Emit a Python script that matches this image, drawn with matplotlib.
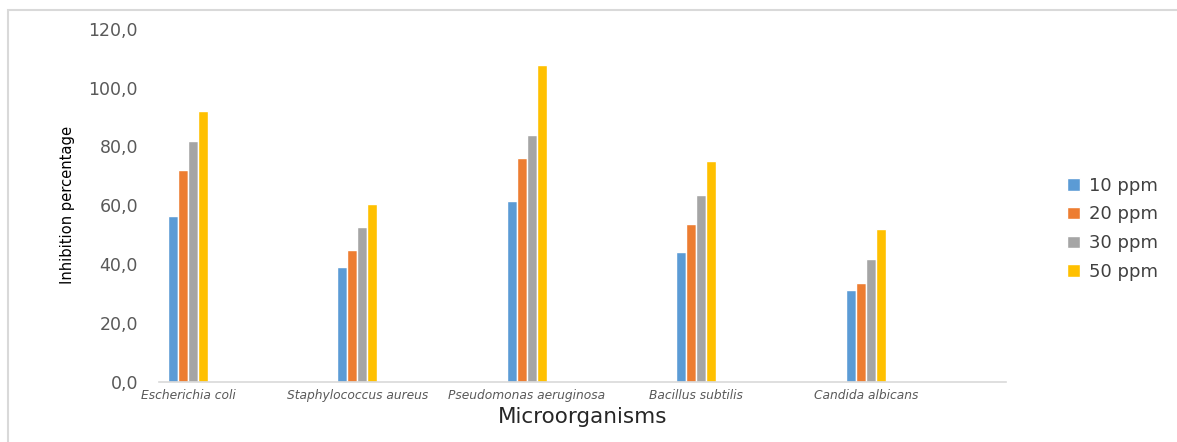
import numpy as np
import matplotlib
matplotlib.use("Agg")
import matplotlib.pyplot as plt
from matplotlib.patches import Rectangle
from matplotlib.ticker import FuncFormatter, MultipleLocator

# inhibition (%) per microorganism at each concentration
organisms = ["Escherichia coli", "Staphylococcus aureus", "Pseudomonas aeruginosa",
             "Bacillus subtilis", "Candida albicans"]
ppm_10 = [56.4, 39.0, 61.5, 44.0, 31.2]
ppm_20 = [71.9, 44.9, 76.0, 53.7, 33.4]
ppm_30 = [81.8, 52.6, 83.9, 63.6, 41.6]
ppm_50 = [92.1, 60.5, 107.7, 75.1, 52.0]
series_labels = ["10 ppm", "20 ppm", "30 ppm", "50 ppm"]
colors = ["#5B9BD5", "#ED7D31", "#A5A5A5", "#FFC000"]

fig = plt.figure(figsize=(11.77, 4.42), dpi=100)
ax = fig.add_axes([0.135, 0.1364, 0.72, 0.7986])

# chart border
fig.patches.append(Rectangle((8 / 1177, -0.05), 1.2, 1 - 10 / 442 + 0.05,
                             transform=fig.transFigure, fill=False,
                             edgecolor="#d9d9d9", linewidth=1.5))

x = np.arange(len(organisms))
pitch = 0.059
for i, (vals, lab, c) in enumerate(zip([ppm_10, ppm_20, ppm_30, ppm_50], series_labels, colors)):
    ax.bar(x + (i - 1.5) * pitch, vals, width=pitch, color=c, edgecolor="white",
           linewidth=1.0, label=lab)

ax.set_xlim(-0.171, 4.829)
ax.set_ylim(0, 120)
ax.yaxis.set_major_locator(MultipleLocator(20))
ax.yaxis.set_major_formatter(FuncFormatter(lambda v, p: f"{v:.1f}".replace(".", ",")))

for s in ["top", "right", "left"]:
    ax.spines[s].set_visible(False)
ax.spines["bottom"].set_color("#d9d9d9")
ax.spines["bottom"].set_linewidth(1.2)

ax.tick_params(axis="y", length=0, pad=15, labelsize=12.5, labelcolor="#595959")
ax.tick_params(axis="x", length=0, pad=5, labelsize=8.8, labelcolor="#595959")
ax.set_xticks(x)
ax.set_xticklabels(organisms, fontstyle="italic")

ax.set_ylabel("Inhibition percentage", fontsize=11.8, color="black",
              family="DejaVu Sans", fontstretch="condensed", labelpad=10)
ax.set_xlabel("Microorganisms", fontsize=15.5, color="#262626", labelpad=4)

ax.legend(loc="center left", bbox_to_anchor=(1.052, 0.433), frameon=False,
          fontsize=13, labelcolor="#404040", handlelength=0.75, handleheight=0.7,
          labelspacing=0.6, handletextpad=0.5)

fig.savefig("out.png", dpi=100)
